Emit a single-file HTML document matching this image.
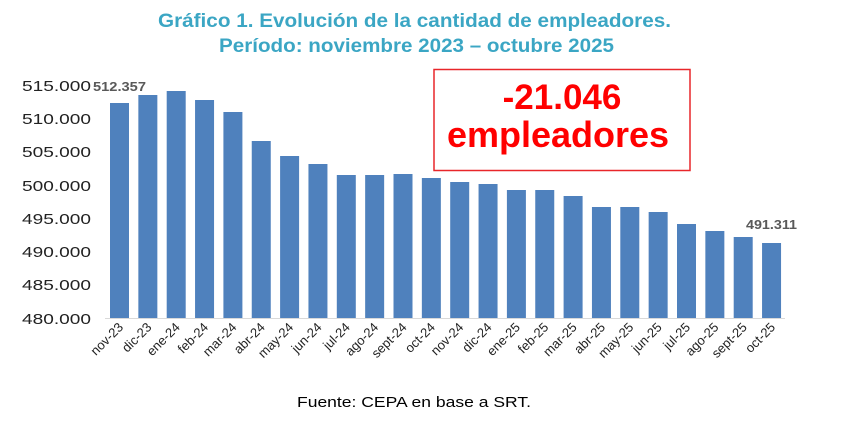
<!DOCTYPE html>
<html><head><meta charset="utf-8"><style>
body{margin:0;background:#fff;width:862px;height:420px;overflow:hidden;font-family:"Liberation Sans",Arial,sans-serif}
</style></head><body>
<svg width="862" height="420" xmlns="http://www.w3.org/2000/svg" font-family="Liberation Sans, Arial, sans-serif">
<text x="158" y="27" font-size="19" font-weight="bold" fill="#3ba6c4" textLength="513" lengthAdjust="spacingAndGlyphs">Gráfico 1. Evolución de la cantidad de empleadores.</text>
<text x="219" y="52" font-size="19" font-weight="bold" fill="#3ba6c4" textLength="395" lengthAdjust="spacingAndGlyphs">Período: noviembre 2023 – octubre 2025</text>
<g font-size="15" fill="#222">
<text x="22" y="91" textLength="69" lengthAdjust="spacingAndGlyphs">515.000</text>
<text x="22" y="124" textLength="69" lengthAdjust="spacingAndGlyphs">510.000</text>
<text x="22" y="157" textLength="69" lengthAdjust="spacingAndGlyphs">505.000</text>
<text x="22" y="191" textLength="69" lengthAdjust="spacingAndGlyphs">500.000</text>
<text x="22" y="224" textLength="69" lengthAdjust="spacingAndGlyphs">495.000</text>
<text x="22" y="257" textLength="69" lengthAdjust="spacingAndGlyphs">490.000</text>
<text x="22" y="290" textLength="69" lengthAdjust="spacingAndGlyphs">485.000</text>
<text x="22" y="324" textLength="69" lengthAdjust="spacingAndGlyphs">480.000</text>
</g>
<line x1="105" y1="318.5" x2="785" y2="318.5" stroke="#d9d9d9" stroke-width="1"/>
<g id="bars" fill="#4f81bd"></g>
<g id="labels" font-size="13" fill="#222"></g>
<text x="93" y="91" font-size="13" font-weight="bold" fill="#595959" textLength="53" lengthAdjust="spacingAndGlyphs">512.357</text>
<text x="746" y="229" font-size="13" font-weight="bold" fill="#595959" textLength="51" lengthAdjust="spacingAndGlyphs">491.311</text>
<rect x="434" y="69.5" width="256" height="101" fill="#fff" stroke="#e8262a" stroke-width="1.5"/>
<text x="562" y="109" text-anchor="middle" font-size="35" font-weight="bold" fill="#ff0000">-21.046</text>
<text x="558" y="147" text-anchor="middle" font-size="36" font-weight="bold" fill="#ff0000">empleadores</text>
<text x="297" y="407" font-size="15" fill="#000" textLength="234" lengthAdjust="spacingAndGlyphs">Fuente: CEPA en base a SRT.</text>
</svg>
<script>
var v=[103,95,91,100,112,141,156,164,175,175,174,178,182,184,190,190,196,207,207,212,224,231,237,243];
var l=["nov-23","dic-23","ene-24","feb-24","mar-24","abr-24","may-24","jun-24","jul-24","ago-24","sept-24","oct-24","nov-24","dic-24","ene-25","feb-25","mar-25","abr-25","may-25","jun-25","jul-25","ago-25","sept-25","oct-25"];
var b=document.getElementById('bars'),g=document.getElementById('labels'),ns="http://www.w3.org/2000/svg";
for(var i=0;i<24;i++){var x=110+i*28.35;
var r=document.createElementNS(ns,'rect');r.setAttribute('x',x);r.setAttribute('y',v[i]);r.setAttribute('width',19);r.setAttribute('height',318-v[i]);b.appendChild(r);
var t=document.createElementNS(ns,'text');var cx=x+14,cy=328;t.setAttribute('x',cx);t.setAttribute('y',cy);t.setAttribute('text-anchor','end');t.setAttribute('transform','rotate(-45 '+cx+' '+cy+')');t.textContent=l[i];g.appendChild(t);}
</script>
</body></html>
